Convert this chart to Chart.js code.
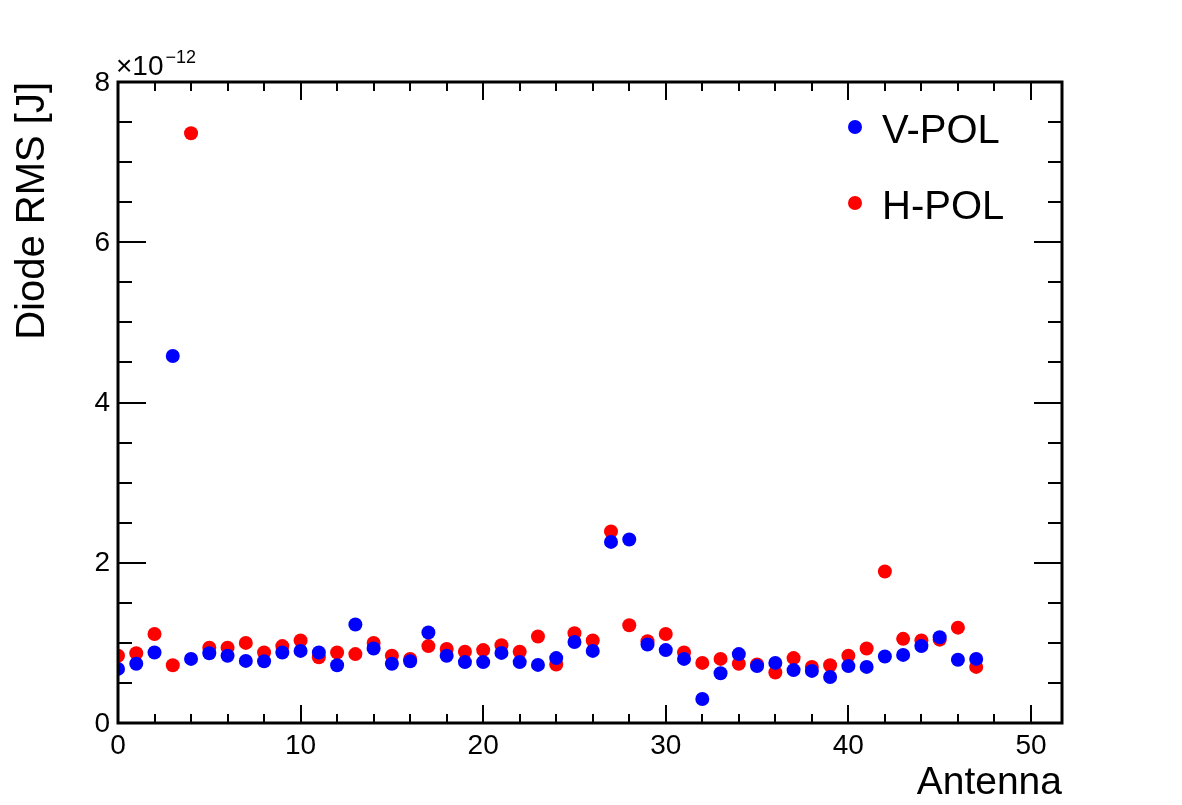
<!DOCTYPE html>
<html>
<head>
<meta charset="utf-8">
<script src="https://cdn.jsdelivr.net/npm/chart.js@4.4.1/dist/chart.umd.min.js"></script>
<style>
html,body{margin:0;padding:0;background:#fff;}
canvas{display:block;}
</style>
</head>
<body>
<canvas id="c" width="1182" height="805"></canvas>
<script>
const antenna = [0,1,2,3,4,5,6,7,8,9,10,11,12,13,14,15,16,17,18,19,20,21,22,23,24,25,26,27,28,29,30,31,32,33,34,35,36,37,38,39,40,41,42,43,44,45,46,47];
const vpol = [0.675,0.74,0.88,4.58,0.80,0.87,0.84,0.775,0.77,0.88,0.90,0.88,0.72,1.23,0.93,0.74,0.77,1.13,0.84,0.76,0.76,0.875,0.76,0.725,0.81,1.01,0.90,2.26,2.29,0.98,0.91,0.80,0.30,0.62,0.86,0.71,0.75,0.66,0.65,0.575,0.71,0.70,0.83,0.85,0.96,1.07,0.79,0.80];
const hpol = [0.84,0.87,1.11,0.72,7.36,0.94,0.94,1.0,0.88,0.96,1.03,0.82,0.88,0.86,1.0,0.84,0.80,0.96,0.925,0.89,0.91,0.97,0.89,1.08,0.73,1.12,1.03,2.39,1.22,1.02,1.11,0.88,0.75,0.80,0.74,0.73,0.63,0.81,0.70,0.72,0.84,0.93,1.89,1.05,1.03,1.04,1.19,0.70];
const seriesLabels = ["V-POL", "H-POL"];
const xTicks = [0,10,20,30,40,50];
const xMinorTicks = [2,4,6,8,12,14,16,18,22,24,26,28,32,34,36,38,42,44,46,48];
const yTicks = [0,2,4,6,8];
const yMinorTicks = [0.5,1,1.5,2.5,3,3.5,4.5,5,5.5,6.5,7,7.5];
const xTitle = "Antenna";
const yTitle = "Diode RMS [J]";
const yExponent = "\u221212";
const X_MIN = 0, X_MAX = 51.7, Y_MIN = 0, Y_MAX = 8;

const FONT = '"Liberation Sans", Arial, Helvetica, sans-serif';

const rootPlugin = {
  id: 'rootStyle',
  afterDraw(chart) {
    const ctx = chart.ctx;
    const a = chart.chartArea;
    const xs = chart.scales.x, ys = chart.scales.y;
    ctx.save();
    ctx.strokeStyle = '#000';
    ctx.fillStyle = '#000';
    ctx.lineWidth = 2;
    ctx.beginPath();
    const xt = (v, len) => {
      const p = Math.round(xs.getPixelForValue(v));
      ctx.moveTo(p, a.bottom); ctx.lineTo(p, a.bottom - len);
      ctx.moveTo(p, a.top); ctx.lineTo(p, a.top + len);
    };
    xTicks.forEach(v => xt(v, 18));
    xMinorTicks.forEach(v => xt(v, 9));
    const yt = (v, len) => {
      const p = Math.round(ys.getPixelForValue(v));
      ctx.moveTo(a.left, p); ctx.lineTo(a.left + len, p);
      ctx.moveTo(a.right, p); ctx.lineTo(a.right - len, p);
    };
    yTicks.forEach(v => yt(v, 28));
    yMinorTicks.forEach(v => yt(v, 14));
    ctx.stroke();
    ctx.lineWidth = 3;
    ctx.strokeRect(a.left, a.top, a.right - a.left, a.bottom - a.top);
    ctx.font = '28px ' + FONT;
    ctx.textAlign = 'center';
    ctx.textBaseline = 'alphabetic';
    xTicks.forEach(v => ctx.fillText(String(v), xs.getPixelForValue(v), a.bottom + 31));
    ctx.textAlign = 'right';
    ctx.textBaseline = 'middle';
    yTicks.forEach(v => ctx.fillText(String(v), a.left - 8, ys.getPixelForValue(v) + 1));
    ctx.textAlign = 'left';
    ctx.textBaseline = 'alphabetic';
    ctx.font = '28px ' + FONT;
    ctx.fillText('\u00d710', a.left - 2, a.top - 7);
    const w = ctx.measureText('\u00d710').width;
    ctx.font = '18px ' + FONT;
    ctx.fillText(yExponent, a.left - 2 + w + 2, a.top - 19);
    ctx.font = '39px ' + FONT;
    ctx.textAlign = 'right';
    ctx.fillText(xTitle, a.right, a.bottom + 71);
    ctx.save();
    ctx.translate(44, a.top);
    ctx.rotate(-Math.PI / 2);
    ctx.font = '40px ' + FONT;
    ctx.textAlign = 'right';
    ctx.fillText(yTitle, 0, 0);
    ctx.restore();
    const legendY = [127, 203];
    chart.data.datasets.forEach((ds, i) => {
      ctx.fillStyle = ds.backgroundColor;
      ctx.beginPath();
      ctx.arc(855, legendY[i], 7, 0, Math.PI * 2);
      ctx.fill();
      ctx.fillStyle = '#000';
      ctx.font = '40px ' + FONT;
      ctx.textAlign = 'left';
      ctx.textBaseline = 'alphabetic';
      ctx.fillText(ds.label, 882, legendY[i] + 16);
    });
    ctx.restore();
  }
};

new Chart(document.getElementById('c'), {
  type: 'scatter',
  data: {
    datasets: [
      { label: seriesLabels[0], data: antenna.map((a, i) => ({x: a, y: vpol[i]})), backgroundColor: '#0000ff', borderColor: '#0000ff', pointRadius: 7, pointBorderWidth: 0, pointHoverRadius: 7 },
      { label: seriesLabels[1], data: antenna.map((a, i) => ({x: a, y: hpol[i]})), backgroundColor: '#ff0000', borderColor: '#ff0000', pointRadius: 7, pointBorderWidth: 0, pointHoverRadius: 7 }
    ]
  },
  options: {
    responsive: false,
    animation: false,
    devicePixelRatio: 1,
    layout: { padding: { left: 118, top: 82, right: 120, bottom: 82 } },
    plugins: { legend: { display: false }, tooltip: { enabled: false } },
    scales: {
      x: { type: 'linear', min: X_MIN, max: X_MAX, display: false },
      y: { type: 'linear', min: Y_MIN, max: Y_MAX, display: false }
    }
  },
  plugins: [rootPlugin]
});
</script>
</body>
</html>
